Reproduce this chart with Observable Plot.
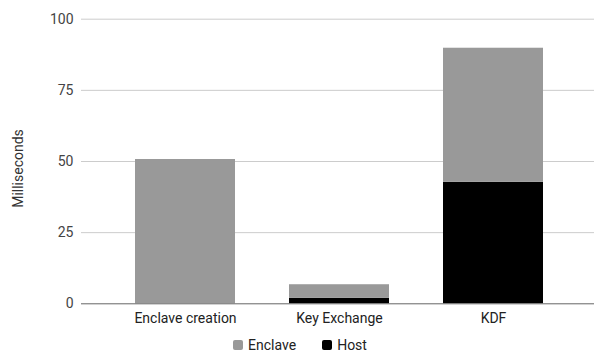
<!DOCTYPE html>
<html>
<head>
<meta charset="utf-8">
<script src="https://cdn.jsdelivr.net/npm/d3@7"></script>
<script src="https://cdn.jsdelivr.net/npm/@observablehq/plot@0.6"></script>
<style>
  html, body { margin: 0; padding: 0; background: #fff; }
  #chart { width: 594px; }
  .legend { display: flex; justify-content: center; align-items: center; height: 22px;
    font-family: Roboto, sans-serif; font-size: 14px; color: #222; padding-left: 6px; }
  .legend .item { display: flex; align-items: center; margin: 0 13px; }
  .legend .sw { width: 10px; height: 10px; border-radius: 2px; margin-right: 5px; }
</style>
</head>
<body>
<div id="chart"></div>
<script>
const categories = ["Enclave creation", "Key Exchange", "KDF"];
const hostValues = [0, 1.9, 42.7];
const enclaveValues = [50.7, 4.8, 47.1];
const seriesNames = ["Enclave", "Host"];
const seriesColors = ["#999999", "#000000"];
const yTicks = [0, 25, 50, 75, 100];
const yLabel = "Milliseconds";

const rows = [];
categories.forEach((c, i) => rows.push({category: c, series: "Host", value: hostValues[i]}));
categories.forEach((c, i) => rows.push({category: c, series: "Enclave", value: enclaveValues[i]}));

const plot = Plot.plot({
  width: 594,
  height: 334,
  marginLeft: 81,
  marginRight: 0,
  marginTop: 18.7,
  marginBottom: 30.7,
  style: {fontFamily: "Roboto, sans-serif", fontSize: "14px", color: "#444", background: "#fff"},
  x: {domain: categories, range: [81, 597], paddingInner: 0.35, paddingOuter: 0.35, label: null},
  y: {domain: [0, 100], label: null},
  color: {domain: seriesNames, range: seriesColors},
  marks: [
    Plot.ruleY(yTicks.filter(d => d > 0), {stroke: "#cccccc", strokeWidth: 1}),
    Plot.barY(rows, Plot.stackY({x: "category", y: "value", fill: "series", z: "series", order: ["Host", "Enclave"]})),
    Plot.ruleY([0], {stroke: "#666666", strokeWidth: 1}),
    Plot.axisY({ticks: yTicks, tickSize: 0, tickPadding: 8, label: null, fill: "#444"}),
    Plot.axisX({tickSize: 0, tickPadding: 9, label: null, fill: "#222"}),
    Plot.text([yLabel], {frameAnchor: "left", textAnchor: "middle", rotate: -90, dx: -63, dy: 7, fill: "#333", fontSize: 14, text: d => d, lineAnchor: "middle"})
  ]
});
document.getElementById("chart").appendChild(plot);

const legend = document.createElement("div");
legend.className = "legend";
seriesNames.forEach((name, i) => {
  const item = document.createElement("div");
  item.className = "item";
  const sw = document.createElement("span");
  sw.className = "sw";
  sw.style.background = seriesColors[i];
  const label = document.createElement("span");
  label.textContent = name;
  item.appendChild(sw);
  item.appendChild(label);
  legend.appendChild(item);
});
document.getElementById("chart").appendChild(legend);
</script>
</body>
</html>
